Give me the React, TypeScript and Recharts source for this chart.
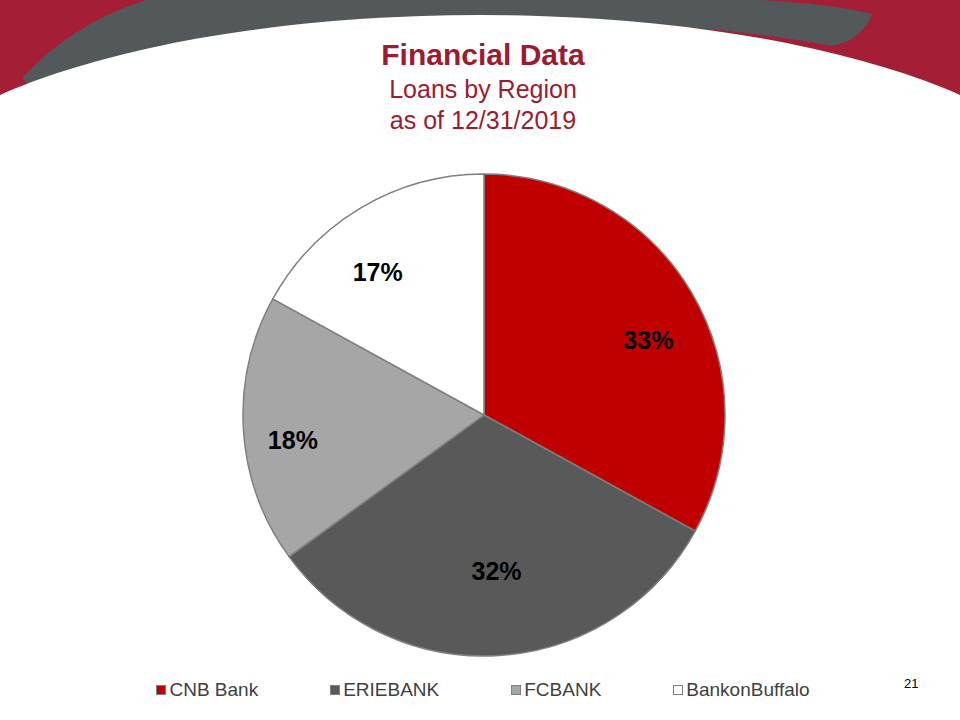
import { PieChart, Pie, Cell, Legend } from 'recharts';

const regions = ['CNB Bank', 'ERIEBANK', 'FCBANK', 'BankonBuffalo'];
const shares = [33, 32, 18, 17];
const sliceColors = ['#C00000', '#595959', '#A6A6A6', '#FFFFFF'];

const data = regions.map((name, i) => ({ name, value: shares[i] }));

// label placement tweaks (radius factor, angle nudge in degrees) to mimic the slide's best-fit labels
const labelRadius = [0.75, 0.65, 0.8, 0.74];
const labelNudge = [-6, 1, 4, 6];

const RADIAN = Math.PI / 180;
const FONT = '"Liberation Sans", Arial, sans-serif';
const TITLE_RED = '#9B1B30';

function renderLabel(props: any) {
  const { cx, cy, midAngle, outerRadius, value, index } = props;
  const r = outerRadius * labelRadius[index];
  const a = midAngle + labelNudge[index];
  const x = cx + r * Math.cos(-a * RADIAN);
  const y = cy + r * Math.sin(-a * RADIAN);
  return (
    <text x={x} y={y} textAnchor="middle" dominantBaseline="central"
      fontFamily={FONT} fontSize={25} fontWeight="bold" fill="#000">
      {value}%
    </text>
  );
}

function LegendContent(props: any) {
  const items = [...(props.payload || [])].sort(
    (a: any, b: any) => regions.indexOf(a.value) - regions.indexOf(b.value)
  );
  return (
    <div style={{ display: 'flex', justifyContent: 'center', gap: 72, fontFamily: FONT, fontSize: 19, color: '#404040', paddingLeft: 6 }}>
      {items.map((it: any) => (
        <div key={it.value} style={{ display: 'flex', alignItems: 'center' }}>
          <span style={{ width: 8, height: 8, background: it.color, border: '1px solid #7f7f7f', marginRight: 3, display: 'inline-block' }} />
          <span>{it.value}</span>
        </div>
      ))}
    </div>
  );
}

function Banner() {
  return (
    <svg width={960} height={230} style={{ position: 'absolute', left: 0, top: 0 }}>
      <rect x={0} y={0} width={960} height={230} fill="#A41E35" />
      <path d="M 22 78 Q 70 25 145 0 L 760 0 Q 830 4 872 14 Q 862 40 832 46 Q 480 -20 60 120 Z" fill="#53585B" />
      <ellipse cx={480} cy={215} rx={600} ry={200} fill="#FFFFFF" />
      <rect x={0} y={214} width={960} height={20} fill="#FFFFFF" />
    </svg>
  );
}

export default function App() {
  return (
    <div style={{ position: 'absolute', left: 0, top: 0, width: 960, height: 720, background: '#fff', overflow: 'hidden' }}>
      <Banner />
      <div style={{ position: 'absolute', left: 0, top: 36, width: 966, textAlign: 'center', fontFamily: FONT, color: TITLE_RED }}>
        <div style={{ fontSize: 30, fontWeight: 'bold', lineHeight: '38px' }}>Financial Data</div>
        <div style={{ fontSize: 25, lineHeight: '31px' }}>Loans by Region</div>
        <div style={{ fontSize: 25, lineHeight: '31px' }}>as of 12/31/2019</div>
      </div>
      <div style={{ position: 'absolute', left: 0, top: 0 }}>
        <PieChart width={960} height={720} margin={{ top: 0, right: 0, bottom: 0, left: 0 }}>
          <Pie
            data={data}
            dataKey="value"
            nameKey="name"
            cx={484}
            cy={415}
            outerRadius={241}
            startAngle={90}
            endAngle={-270}
            stroke="#7F7F7F"
            strokeWidth={1.5}
            label={renderLabel}
            labelLine={false}
            isAnimationActive={false}
          >
            {data.map((d, i) => (
              <Cell key={d.name} fill={sliceColors[i]} />
            ))}
          </Pie>
          <Legend
            content={<LegendContent />}
            wrapperStyle={{ position: 'absolute', left: 0, top: 679, width: 960 }}
          />
        </PieChart>
      </div>
      <div style={{ position: 'absolute', left: 904, top: 676, fontFamily: FONT, fontSize: 13, color: '#000' }}>21</div>
    </div>
  );
}
